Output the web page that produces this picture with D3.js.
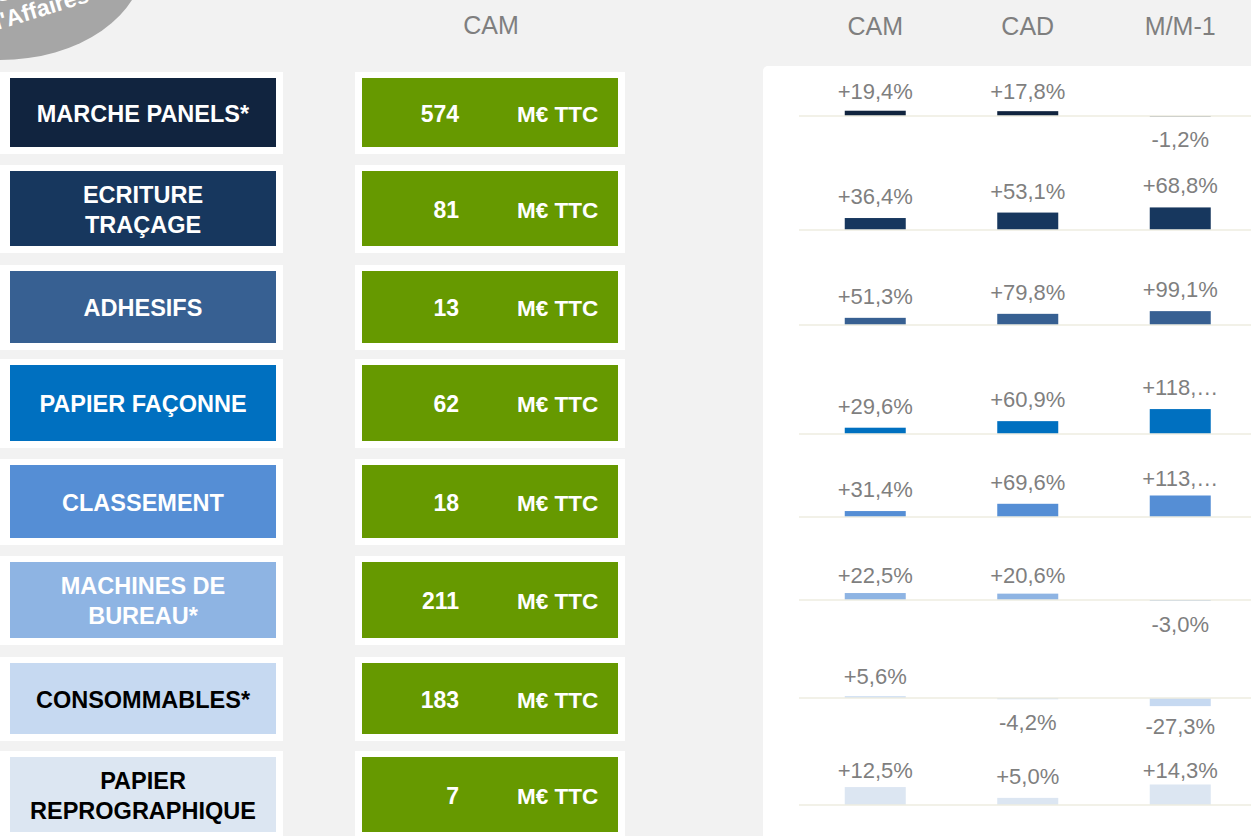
<!DOCTYPE html>
<meta charset="utf-8">
<style>
    body {
        margin: 0;
        padding: 0;
        background: #f2f2f2;
    }
    svg text {
        font-family: "Liberation Sans", Arial, sans-serif;
    }
    .label { font-weight: bold; text-anchor: middle; }
    .total { font-weight: bold; fill: #fff; }
    .head { fill: #7f7f7f; font-size: 25px; text-anchor: middle; }
    .val { fill: #7f7f7f; font-size: 22px; text-anchor: middle; }
</style>

<body>

<script src="https://d3js.org/d3.v7.min.js"></script>

<script>

// categories (one entry per line of text)
var categories = [
  ["MARCHE PANELS*"],
  ["ECRITURE", "TRAÇAGE"],
  ["ADHESIFS"],
  ["PAPIER FAÇONNE"],
  ["CLASSEMENT"],
  ["MACHINES DE", "BUREAU*"],
  ["CONSOMMABLES*"],
  ["PAPIER", "REPROGRAPHIQUE"]
];
var camTotals = [574, 81, 13, 62, 18, 211, 183, 7];
var unit = "M€ TTC";

var columns = ["CAM", "CAD", "M/M-1"];
var cam = [19.4, 36.4, 51.3, 29.6, 31.4, 22.5, 5.6, 12.5];
var cad = [17.8, 53.1, 79.8, 60.9, 69.6, 20.6, -4.2, 5.0];
var mm1 = [-1.2, 68.8, 99.1, 118.4, 113.2, -3.0, -27.3, 14.3];

// axis bounds of each small row chart
var axisMin = [-111, -46, -121, -29, -105, -119, -117, -18];
var axisMax = [133, 174, 371, 319, 263, 116, 110, 32];

var colors = ["#11243f", "#17375e", "#376092", "#0070c0", "#558ed5", "#8eb4e3", "#c6d9f1", "#dce6f2"];
var textColors = ["#fff", "#fff", "#fff", "#fff", "#fff", "#fff", "#000", "#000"];

// layout of the rows (frame top / height)
var rowTop = [72, 165, 265, 359, 459, 556, 657, 751];
var rowH = [82, 88, 85, 89, 86, 89, 84, 88];

var width = 1251, height = 836;

var svg = d3.select("body").append("svg")
    .attr("width", width)
    .attr("height", height);

// grey bubble top-left (partly outside the page, as in the original)
svg.append("ellipse")
    .attr("cx", 0).attr("cy", -40)
    .attr("rx", 144).attr("ry", 100)
    .attr("fill", "#a6a6a6");
var bub = svg.append("g").attr("transform", "translate(40,17) rotate(-17)");
bub.selectAll("text").data(["Chiffre", "d'Affaires"]).enter().append("text")
    .attr("y", (d, i) => (i - 1) * 26)
    .attr("text-anchor", "middle")
    .attr("fill", "#fff")
    .attr("font-weight", "bold")
    .attr("font-size", 23)
    .text(d => d);

// headers
svg.append("text").attr("class", "head").attr("x", 491).attr("y", 34).text("CAM");

// white panel
svg.append("rect")
    .attr("x", 763).attr("y", 66)
    .attr("width", 600).attr("height", 900)
    .attr("rx", 5)
    .attr("fill", "#fff");

var x = d3.scaleBand()
    .domain(columns)
    .range([799, 1256.5])
    .paddingInner(0.6)
    .paddingOuter(0.3);

svg.selectAll(".head2").data(columns).enter().append("text")
    .attr("class", "head")
    .attr("x", d => x(d) + x.bandwidth() / 2)
    .attr("y", 35)
    .text(d => d);

var fr = d3.formatLocale({decimal: ",", thousands: " ", grouping: [3], currency: ["", "€"], minus: "-"});
var fmt = fr.format("+.1f");

categories.forEach((cat, i) => {
  var top = rowTop[i], h = rowH[i], cy = top + h / 2;

  // label box
  svg.append("rect").attr("x", 0).attr("y", top).attr("width", 283).attr("height", h).attr("fill", "#fff");
  svg.append("rect").attr("x", 10).attr("y", top + 6).attr("width", 266).attr("height", h - 13).attr("fill", colors[i]);
  svg.append("g").selectAll("text").data(cat).enter().append("text")
      .attr("class", "label")
      .attr("x", 143)
      .attr("y", (d, j) => cy + 8.5 + (j - (cat.length - 1) / 2) * 30)
      .attr("font-size", 23.5)
      .attr("fill", textColors[i])
      .text(d => d);

  // total box
  svg.append("rect").attr("x", 355).attr("y", top).attr("width", 270).attr("height", h).attr("fill", "#fff");
  svg.append("rect").attr("x", 362).attr("y", top + 6).attr("width", 256).attr("height", h - 13).attr("fill", "#669900");
  svg.append("text").attr("class", "total").attr("x", 459).attr("y", cy + 8.5)
      .attr("text-anchor", "end").attr("font-size", 23).text(camTotals[i]);
  svg.append("text").attr("class", "total").attr("x", 517).attr("y", cy + 8.5)
      .attr("font-size", 22.5).text(unit);

  // small bar chart of the row
  var plotTop = top + 8, plotBot = top + h - 8;
  var y = d3.scaleLinear().domain([axisMin[i], axisMax[i]]).range([plotBot, plotTop]);
  var vals = [cam[i], cad[i], mm1[i]];
  var g = svg.append("g");

  g.selectAll("rect").data(vals).enter().append("rect")
      .attr("x", (d, j) => x(columns[j]))
      .attr("width", x.bandwidth())
      .attr("y", d => Math.min(y(d), y(0)))
      .attr("height", d => Math.max(0.6, Math.abs(y(d) - y(0))))
      .attr("fill", colors[i]);

  g.append("line")
      .attr("x1", 799).attr("x2", width)
      .attr("y1", y(0)).attr("y2", y(0))
      .attr("stroke", "#eeece1")
      .attr("stroke-width", 1.5);

  g.selectAll(".val").data(vals).enter().append("text")
      .attr("class", "val")
      .attr("x", (d, j) => x(columns[j]) + x.bandwidth() / 2)
      .attr("y", d => d >= 0
          ? Math.max(y(d) - 14, plotTop + 19)
          : Math.min(y(d) + 31, plotBot + 1))
      .text(d => fmt(d) + "%")
      .each(function() {
        // too long for the column: cut and add an ellipsis
        var t = d3.select(this), s = t.text();
        if (this.getComputedTextLength() > 80) {
          s = s.slice(0, -1);
          while (s.length > 1) {
            t.text(s + "…");
            if (this.getComputedTextLength() <= 80) break;
            s = s.slice(0, -1);
          }
        }
      });
});

</script>
